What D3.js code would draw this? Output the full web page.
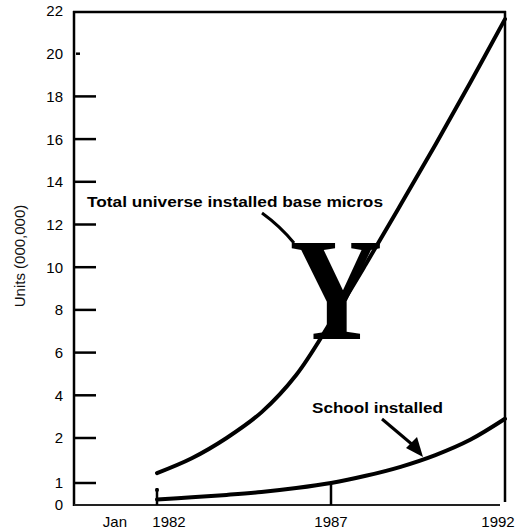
<!DOCTYPE html>
<html><head><meta charset="utf-8">
<script src="https://cdn.jsdelivr.net/npm/d3@7"></script>
<style>body{margin:0;background:#fff}svg{display:block}</style>
</head><body>
<script>
const years = [1982,1983,1984,1985,1986,1987,1988,1989,1990,1991,1992];
const totalBase = [1.22,1.55,2.0,3.2,4.95,7.45,10.14,12.92,15.74,18.64,21.62];
const schoolBase = [0.25,0.35,0.46,0.59,0.77,1.0,1.16,1.36,1.62,1.96,2.9];
const yTicks = [0,1,2,4,6,8,10,12,14,16,18,20,22];
const xTicks = [1982,1987,1992];
const xTickLabels = ["1982","1987","1992"];
const yTitle = "Units (000,000)";
const totalLabel = "Total universe installed base micros";
const schoolLabel = "School installed";

const W=516,H=529;
const svg=d3.select("body").append("svg").attr("width",W).attr("height",H);
const x=d3.scaleLinear().domain([1982,1992]).range([157,505]);
const y=d3.scaleLinear().domain([0,1,2,22]).range([505,483,438,11]);
const ink="#000";
const font="Arial, 'Liberation Sans', Helvetica, sans-serif";

// frame
svg.append("line").attr("x1",74).attr("x2",74).attr("y1",11).attr("y2",506).attr("stroke",ink).attr("stroke-width",2.5);
svg.append("line").attr("x1",73).attr("x2",506).attr("y1",12).attr("y2",12).attr("stroke",ink).attr("stroke-width",2.5);
svg.append("line").attr("x1",505).attr("x2",505).attr("y1",11).attr("y2",502).attr("stroke",ink).attr("stroke-width",2.5);
svg.append("line").attr("x1",74).attr("x2",500).attr("y1",505).attr("y2",505).attr("stroke","#222").attr("stroke-width",2);

// y ticks
yTicks.forEach(v=>{
  if(v>0 && v<22){
    const len = v===20?4:22;
    const x0 = v===20?76:74;
    svg.append("line").attr("x1",x0).attr("x2",x0+len).attr("y1",y(v)).attr("y2",y(v)).attr("stroke",ink).attr("stroke-width",2.5);
  }
  svg.append("text").attr("x",63).attr("y",y(v)).attr("dy","0.36em").attr("text-anchor","end")
    .attr("font-family",font).attr("font-size",15).attr("fill",ink).text(v);
});

// y title
svg.append("text").attr("transform","translate(25,256) rotate(-90)").attr("text-anchor","middle")
  .attr("font-family",font).attr("font-size",15).attr("fill","#111").text(yTitle);

// x ticks
svg.append("line").attr("x1",x(1982)).attr("x2",x(1982)).attr("y1",505).attr("y2",488).attr("stroke",ink).attr("stroke-width",2.5);
svg.append("circle").attr("cx",x(1982)).attr("cy",490).attr("r",2).attr("fill",ink);
svg.append("line").attr("x1",x(1987)).attr("x2",x(1987)).attr("y1",505).attr("y2",y(schoolBase[5])).attr("stroke",ink).attr("stroke-width",2.5);
svg.append("text").attr("x",x(1982)-30).attr("y",527).attr("text-anchor","end").attr("font-family",font).attr("font-size",15).attr("fill",ink).text("Jan");
xTicks.forEach((t,i)=>{
  const dx = i===0?12:(i===2?-7:0);
  svg.append("text").attr("x",x(t)+dx).attr("y",527).attr("text-anchor","middle").attr("font-family",font).attr("font-size",15).attr("fill",ink).text(xTickLabels[i]);
});

// lines
const line=d3.line().x((d,i)=>x(years[i])).y(d=>y(d)).curve(d3.curveCatmullRom.alpha(0.5));
svg.append("path").attr("d",line(totalBase)).attr("fill","none").attr("stroke",ink).attr("stroke-width",4).attr("stroke-linecap","round");
svg.append("path").attr("d",line(schoolBase)).attr("fill","none").attr("stroke",ink).attr("stroke-width",4).attr("stroke-linecap","round");

// total label
svg.append("text").attr("x",87).attr("y",207).attr("font-family",font).attr("font-weight","bold").attr("font-size",15)
  .attr("textLength",296).attr("lengthAdjust","spacingAndGlyphs").attr("fill",ink).text(totalLabel);
svg.append("path").attr("d","M262,213 Q280,226 294,243").attr("fill","none").attr("stroke",ink).attr("stroke-width",3);
svg.append("text").attr("x",336).attr("y",339).attr("text-anchor","middle").attr("font-family","'Liberation Serif','Times New Roman',serif")
  .attr("font-weight","bold").attr("font-size",146).attr("transform","translate(336,0) scale(0.88,1) translate(-336,0)").attr("fill",ink).text("Y");

// school label
svg.append("text").attr("x",312).attr("y",413).attr("font-family",font).attr("font-weight","bold").attr("font-size",14)
  .attr("textLength",131).attr("lengthAdjust","spacingAndGlyphs").attr("fill",ink).text(schoolLabel);
svg.append("line").attr("x1",382).attr("y1",419).attr("x2",414).attr("y2",446).attr("stroke",ink).attr("stroke-width",3);
svg.append("path").attr("d","M423,457 L406,448 L417,437 Z").attr("fill",ink);
</script>
</body></html>
